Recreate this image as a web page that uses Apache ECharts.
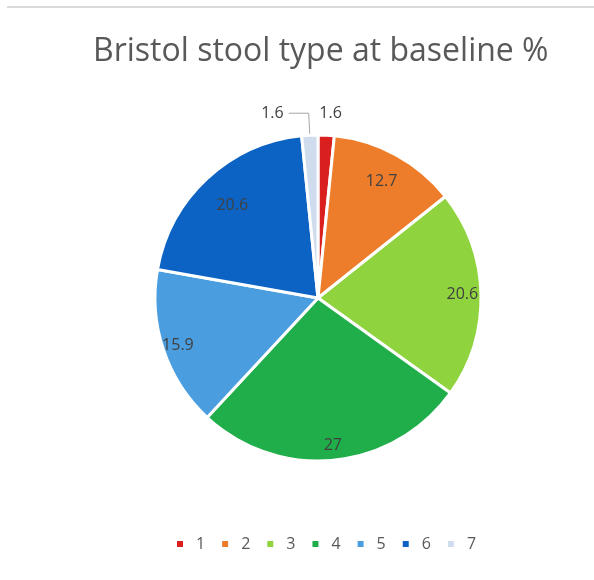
<!DOCTYPE html>
<html><head><meta charset="utf-8">
<script src="https://cdn.jsdelivr.net/npm/echarts@6/dist/echarts.min.js"></script>
<style>html,body{margin:0;padding:0;background:#fff}#c{width:594px;height:580px}</style>
</head><body><div id="c"></div>
<script>
const categories = ['1','2','3','4','5','6','7'];
const values = [1.6, 12.7, 20.6, 27, 15.9, 20.6, 1.6];
const colors = ['#d9201f','#ee7d2b','#8fd43f','#1fae4a','#4a9ee0','#0c63c4','#cfdcee'];
const titleText = 'Bristol stool type at baseline %';

// style: radial position of inside labels (fraction of pie radius)
const labelRadiusFactor = [0, 0.80, 0.87, 0.89, 0.89, 0.76, 0];

const R = 163;
const C = [318, 298];
const small = v => v < 5;
const mainData = categories.map((c,i)=>({
  name:c, value:values[i], itemStyle:{color:colors[i]},
  label:{show:small(values[i])},
  labelLine:{show:small(values[i]) && i===6}
}));
const labelData = categories.map((c,i)=>({
  name:c, value:values[i],
  label:{show:!small(values[i])}
}));

const chart = echarts.init(document.getElementById('c'));
chart.setOption({
  animation:false,
  title:{text:titleText,left:88,top:31,
    textStyle:{fontFamily:'Open Sans',fontSize:32,fontWeight:'normal',color:'#595959'}},
  legend:{bottom:23,left:170,itemWidth:8,itemHeight:8,itemGap:15,icon:'rect',
    data:categories,
    textStyle:{fontFamily:'Open Sans',fontSize:16,color:'#595959',padding:[0,0,0,7]}},
  graphic:[{type:'line',shape:{x1:7,y1:7,x2:594,y2:7},style:{stroke:'#d9d9d9',lineWidth:2},silent:true}],
  series:[
    {type:'pie',name:'main',center:C,radius:[0,R],startAngle:90,clockwise:true,
     data:mainData,
     itemStyle:{borderColor:'#fff',borderWidth:3},
     label:{position:'outside',fontFamily:'Open Sans',fontSize:16,color:'#404040',
       formatter:'{c}'},
     labelLine:{length:22,length2:20,lineStyle:{color:'#a6a6a6',width:1}},
     labelLayout:function(p){ return p.dataIndex===0 ? {dx:-33} : {}; },
     emphasis:{disabled:true}
    },
    {type:'pie',name:'labels',center:C,radius:[0,2*R],startAngle:90,clockwise:true,
     silent:true,legendHoverLink:false,
     data:labelData,
     itemStyle:{color:'rgba(0,0,0,0)'},
     label:{position:'inside',fontFamily:'Open Sans',fontSize:16,color:'#404040',formatter:'{c}'},
     labelLine:{show:false},
     labelLayout:function(p){
       const r = p.labelRect;
       const cx = r.x + r.width/2, cy = r.y + r.height/2;
       const k = labelRadiusFactor[p.dataIndex] || 1;
       return {dx:(cx-C[0])*(k-1), dy:(cy-C[1])*(k-1)};
     },
     emphasis:{disabled:true}
    }
  ]
});
</script></body></html>
